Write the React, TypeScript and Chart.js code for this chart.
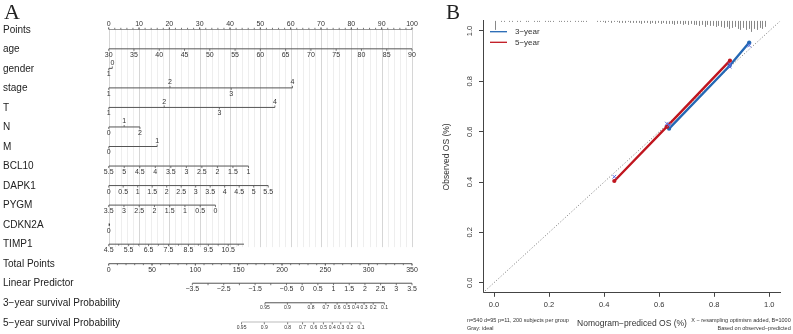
import React, { useEffect, useRef } from "react";
import { Chart, registerables } from "chart.js";
Chart.register(...registerables);

const SANS = "'Liberation Sans', Arial, sans-serif";
const SERIF = "'Liberation Serif', 'Times New Roman', serif";

// ---------------- Panel A: nomogram ----------------
const rowNames = [
  "Points", "age", "gender", "stage", "T", "N", "M", "BCL10", "DAPK1", "PYGM",
  "CDKN2A", "TIMP1", "Total Points", "Linear Predictor",
  "3\u2212year survival Probability", "5\u2212year survival Probability",
];

const pointsLabels = ["0", "10", "20", "30", "40", "50", "60", "70", "80", "90", "100"];
const pointsPos = [0, 10, 20, 30, 40, 50, 60, 70, 80, 90, 100];
const pointsMinorStep = 2;

const ageLabels = ["30", "35", "40", "45", "50", "55", "60", "65", "70", "75", "80", "85", "90"];
const agePts = [0, 8.33, 16.67, 25, 33.33, 41.67, 50, 58.33, 66.67, 75, 83.33, 91.67, 100];

const genderLabels = ["0", "1"];
const genderPts = [1.2, 0];
const genderSide = [1, -1];

const stageLabels = ["1", "2", "3", "4"];
const stagePts = [0, 20.2, 40.4, 60.6];
const stageSide = [-1, 1, -1, 1];

const tLabels = ["1", "2", "3", "4"];
const tPts = [0, 18.3, 36.5, 54.8];
const tSide = [-1, 1, -1, 1];

const nLabels = ["0", "1", "2"];
const nPts = [0, 5.1, 10.3];
const nSide = [-1, 1, -1];

const mLabels = ["0", "1"];
const mPts = [0, 16.0];
const mSide = [-1, 1];

const bcl10Labels = ["5.5", "5", "4.5", "4", "3.5", "3", "2.5", "2", "1.5", "1"];
const bcl10Pts = [0, 5.12, 10.24, 15.36, 20.48, 25.6, 30.72, 35.84, 40.96, 46.1];

const dapk1Labels = ["0", "0.5", "1", "1.5", "2", "2.5", "3", "3.5", "4", "4.5", "5", "5.5"];
const dapk1Pts = [0, 4.78, 9.56, 14.34, 19.12, 23.9, 28.68, 33.46, 38.24, 43.02, 47.8, 52.6];

const pygmLabels = ["3.5", "3", "2.5", "2", "1.5", "1", "0.5", "0"];
const pygmPts = [0, 5.03, 10.06, 15.09, 20.11, 25.14, 30.17, 35.2];

const cdkn2aLabels = ["0"];
const cdkn2aPts = [0];

const timp1Labels = ["4.5", "5.5", "6.5", "7.5", "8.5", "9.5", "10.5"];
const timp1Pts = [0, 6.57, 13.14, 19.71, 26.28, 32.85, 39.4];
const timp1MinorPts = [3.28, 9.85, 16.42, 23.0, 29.57, 36.1, 42.7];
const timp1End = 44.6;

const totalLabels = ["0", "50", "100", "150", "200", "250", "300", "350"];
const totalPos = [0, 50, 100, 150, 200, 250, 300, 350];
const totalMinorStep = 10;

const lpLabels = ["\u22123.5", "", "\u22122.5", "", "\u22121.5", "", "\u22120.5", "0", "0.5", "1", "1.5", "2", "2.5", "3", "3.5"];
const lpPos = [-3.5, -3, -2.5, -2, -1.5, -1, -0.5, 0, 0.5, 1, 1.5, 2, 2.5, 3, 3.5];
const lpAtZeroTotal = -6.165; // linear predictor value at 0 total points

const survLabels = ["0.95", "0.9", "0.8", "0.7", "0.6", "0.5", "0.4", "0.3", "0.2", "0.1"];
const surv3Total = [180.3, 206.2, 233.5, 250.6, 263.6, 274.8, 284.9, 294.7, 305.2, 318.2];
const surv5Total = [153.3, 179.6, 206.5, 223.7, 236.6, 247.8, 258.0, 267.8, 278.3, 291.2];

type Row = {
  axis: string; start: number; end: number; pos: number[]; labels: string[];
  sides?: number[]; side?: number; minor?: number[]; size?: number; dot?: boolean;
};

function stepList(a: number, b: number, s: number): number[] {
  const out: number[] = [];
  for (let v = a; v <= b + 1e-9; v += s) out.push(+v.toFixed(6));
  return out;
}

const rows: Row[] = [
  { axis: "x", start: 0, end: 100, pos: pointsPos, labels: pointsLabels, side: 1, minor: stepList(0, 100, pointsMinorStep) },
  { axis: "x", start: 0, end: 100, pos: agePts, labels: ageLabels, side: -1 },
  { axis: "x", start: 0, end: genderPts[0], pos: genderPts, labels: genderLabels, sides: genderSide },
  { axis: "x", start: 0, end: stagePts[3], pos: stagePts, labels: stageLabels, sides: stageSide },
  { axis: "x", start: 0, end: tPts[3], pos: tPts, labels: tLabels, sides: tSide },
  { axis: "x", start: 0, end: nPts[2], pos: nPts, labels: nLabels, sides: nSide },
  { axis: "x", start: 0, end: mPts[1], pos: mPts, labels: mLabels, sides: mSide },
  { axis: "x", start: 0, end: bcl10Pts[9], pos: bcl10Pts, labels: bcl10Labels, side: -1 },
  { axis: "x", start: 0, end: dapk1Pts[11], pos: dapk1Pts, labels: dapk1Labels, side: -1 },
  { axis: "x", start: 0, end: pygmPts[7], pos: pygmPts, labels: pygmLabels, side: -1 },
  { axis: "x", start: 0, end: 0, pos: cdkn2aPts, labels: cdkn2aLabels, side: -1, dot: true },
  { axis: "x", start: 0, end: timp1End, pos: timp1Pts, labels: timp1Labels, side: -1, minor: timp1MinorPts },
  { axis: "xTotal", start: 0, end: 350, pos: totalPos, labels: totalLabels, side: -1, minor: stepList(0, 350, totalMinorStep) },
  { axis: "xLP", start: -3.5, end: 3.5, pos: lpPos, labels: lpLabels, side: -1 },
  { axis: "xTotal", start: surv3Total[0], end: surv3Total[9], pos: surv3Total, labels: survLabels, side: -1, size: 5 },
  { axis: "xTotal", start: surv5Total[0], end: surv5Total[9], pos: surv5Total, labels: survLabels, side: -1, size: 5 },
];

const gridMinorStep = 2;
const gridMajorStep = 10;

const nomoPlugin = {
  id: "nomoDecor",
  beforeDatasetsDraw(chart: any) {
    const { ctx } = chart;
    const x = chart.scales.x;
    const y = chart.scales.y;
    const yTop = y.getPixelForValue(0);
    const yBot = y.getPixelForValue(11) + 3;
    ctx.save();
    ctx.lineWidth = 1;
    for (let p = 0; p <= 100 + 1e-9; p += gridMinorStep) {
      const px = Math.round(x.getPixelForValue(p)) + 0.5;
      ctx.strokeStyle = Math.abs(p % gridMajorStep) < 1e-6 ? "#d6d6d6" : "#eeeeee";
      ctx.beginPath();
      ctx.moveTo(px, yTop);
      ctx.lineTo(px, yBot);
      ctx.stroke();
    }
    ctx.restore();
  },
  afterDatasetsDraw(chart: any) {
    const { ctx } = chart;
    const y = chart.scales.y;
    ctx.save();
    ctx.strokeStyle = "#555";
    ctx.fillStyle = "#333";
    ctx.lineWidth = 0.8;
    rows.forEach((r, i) => {
      const sc = chart.scales[r.axis];
      const py = y.getPixelForValue(i);
      if (r.minor) {
        r.minor.forEach((v) => {
          const px = sc.getPixelForValue(v);
          const s = r.side ?? -1;
          ctx.beginPath();
          ctx.moveTo(px, py);
          ctx.lineTo(px, py - s * 1.5);
          ctx.stroke();
        });
      }
      ctx.font = `${r.size ?? 7}px ${SANS}`;
      ctx.textAlign = "center";
      r.pos.forEach((v, j) => {
        const px = sc.getPixelForValue(v);
        const s = r.sides ? r.sides[j] : r.side ?? -1;
        if (!r.dot) {
          ctx.beginPath();
          ctx.moveTo(px, py);
          ctx.lineTo(px, py - s * 2);
          ctx.stroke();
        }
        const lab = r.labels[j];
        if (!lab) return;
        if (s > 0) {
          ctx.textBaseline = "bottom";
          ctx.fillText(lab, px, py - 2);
        } else {
          ctx.textBaseline = "top";
          ctx.fillText(lab, px, py + 2.5);
        }
      });
    });
    // row names
    ctx.fillStyle = "#222";
    ctx.font = `10px ${SANS}`;
    ctx.textAlign = "left";
    ctx.textBaseline = "middle";
    rowNames.forEach((n, i) => {
      ctx.fillText(n, 3, y.getPixelForValue(i) + 0.5);
    });
    // panel letter
    ctx.font = `22px ${SERIF}`;
    ctx.textBaseline = "alphabetic";
    ctx.fillText("A", 4, 19);
    ctx.restore();
  },
};

// ---------------- Panel B: calibration ----------------
const axisTicks = [0, 0.2, 0.4, 0.6, 0.8, 1.0];
const axisMin = -0.04;
const axisMax = 1.04;

const cal3Pred = [0.636, 0.856, 0.927];
const cal3Obs = [0.612, 0.862, 0.954];
const cal5Pred = [0.437, 0.628, 0.857];
const cal5Obs = [0.404, 0.62, 0.882];
const corr3Obs = [0.627, 0.858, 0.942];
const corr5Obs = [0.421, 0.632, 0.868];

// rug (histogram of predicted values) at top, bins of 0.01 from 0.00 to 0.99
const rugCounts = [
  9, 0, 1, 1, 0, 1, 1, 0, 1, 1,
  0, 1, 1, 0, 1, 1, 1, 0, 1, 1,
  1, 1, 0, 1, 1, 1, 1, 1, 0, 1,
  1, 1, 1, 1, 0, 0, 0, 1, 1, 1,
  2, 1, 2, 1, 1, 2, 2, 2, 1, 2,
  2, 2, 2, 3, 2, 2, 3, 2, 3, 2,
  3, 2, 3, 3, 3, 4, 3, 3, 4, 3,
  4, 3, 4, 4, 5, 4, 6, 4, 5, 5,
  6, 5, 6, 7, 6, 8, 7, 6, 8, 9,
  7, 9, 8, 11, 8, 9, 7, 8, 6, 0,
];
const rugBinWidth = 0.01;

const BLUE = "#2468b4";
const RED = "#c0161f";
const XCOL = "#5b6ee0";

const calPlugin = {
  id: "calDecor",
  beforeDatasetsDraw(chart: any) {
    const { ctx } = chart;
    const x = chart.scales.x;
    const y = chart.scales.y;
    const top = y.getPixelForValue(axisMax);
    const pxPerUnit = y.getPixelForValue(0) - y.getPixelForValue(1);
    ctx.save();
    ctx.strokeStyle = "#6a6a6a";
    ctx.lineWidth = 0.8;
    rugCounts.forEach((c, i) => {
      if (!c) return;
      const px = Math.round(x.getPixelForValue(i * rugBinWidth + rugBinWidth / 2)) + 0.5;
      const len = y.getPixelForValue(axisMax - c / pxPerUnit) - top;
      ctx.beginPath();
      ctx.moveTo(px, top);
      ctx.lineTo(px, top + len);
      ctx.stroke();
    });
    ctx.restore();
  },
  afterDraw(chart: any) {
    const { ctx, chartArea } = chart;
    const y = chart.scales.y;
    ctx.save();
    ctx.fillStyle = "#333";
    // rotated y tick labels
    ctx.font = `7.5px ${SANS}`;
    ctx.textAlign = "center";
    ctx.textBaseline = "middle";
    axisTicks.forEach((v) => {
      const py = y.getPixelForValue(v);
      ctx.save();
      ctx.translate(40, py);
      ctx.rotate(-Math.PI / 2);
      ctx.fillText(v.toFixed(1), 0, 0);
      ctx.restore();
    });
    // y title
    ctx.font = `8.5px ${SANS}`;
    ctx.save();
    ctx.translate(17, (chartArea.top + chartArea.bottom) / 2);
    ctx.rotate(-Math.PI / 2);
    ctx.fillText("Observed OS (%)", 0, 0);
    ctx.restore();
    // x title
    ctx.font = `8.5px ${SANS}`;
    ctx.fillText("Nomogram\u2212prediced OS (%)", 202, 323.5);
    // footnotes
    ctx.font = `5.5px ${SANS}`;
    ctx.textAlign = "left";
    ctx.fillText("n=540 d=95 p=11, 200 subjects per group", 37, 320.7);
    ctx.fillText("Gray: ideal", 37, 328);
    ctx.textAlign = "right";
    ctx.fillText("X \u2212 resampling optimism added, B=1000", 360.7, 320.3);
    ctx.fillText("Based on observed\u2212predicted", 360.7, 328);
    // legend
    const leg = [["3\u2212year", BLUE, 31.7], ["5\u2212year", RED, 42.3]] as [string, string, number][];
    ctx.font = `8px ${SANS}`;
    ctx.textAlign = "left";
    leg.forEach(([t, c, ly]) => {
      ctx.strokeStyle = c;
      ctx.lineWidth = 1.3;
      ctx.beginPath();
      ctx.moveTo(60, ly);
      ctx.lineTo(77, ly);
      ctx.stroke();
      ctx.fillStyle = "#333";
      ctx.fillText(t, 85, ly + 0.5);
    });
    // panel letter
    ctx.fillStyle = "#222";
    ctx.font = `21px ${SERIF}`;
    ctx.textBaseline = "alphabetic";
    ctx.textAlign = "left";
    ctx.fillText("B", 16, 18.5);
    ctx.restore();
  },
};

function toPts(xs: number[], ys: number[]) {
  return xs.map((v, i) => ({ x: v, y: ys[i] }));
}

export default function App() {
  const leftRef = useRef<HTMLCanvasElement>(null);
  const rightRef = useRef<HTMLCanvasElement>(null);

  useEffect(() => {
    document.body.style.margin = "0";
    const lineDs = rows.map((r, i) => ({
      data: r.dot ? [{ x: r.start, y: i }] : [{ x: r.start, y: i }, { x: r.end, y: i }],
      xAxisID: r.axis,
      yAxisID: "y",
      showLine: !r.dot,
      borderColor: "#555",
      borderWidth: 1,
      pointRadius: r.dot ? 1.3 : 0,
      pointBackgroundColor: "#333",
      pointBorderWidth: 0,
    }));
    const left = new Chart(leftRef.current!, {
      type: "scatter",
      data: { datasets: lineDs as any },
      options: {
        animation: false,
        responsive: false,
        events: [],
        layout: { padding: { left: 108.7, right: 18, top: 29.3, bottom: 334 - 322.3 } },
        plugins: { legend: { display: false }, tooltip: { enabled: false } },
        scales: {
          x: { type: "linear", min: 0, max: 100, display: false },
          xTotal: { type: "linear", axis: "x", min: 0, max: 350, display: false },
          xLP: { type: "linear", axis: "x", min: lpAtZeroTotal, max: 3.5, display: false },
          y: { type: "linear", min: 0, max: 15, reverse: true, display: false },
        },
      } as any,
      plugins: [nomoPlugin],
    });

    const right = new Chart(rightRef.current!, {
      type: "scatter",
      data: {
        datasets: [
          {
            data: [...toPts(cal3Pred, corr3Obs), ...toPts(cal5Pred, corr5Obs)],
            showLine: false,
            pointStyle: "crossRot",
            pointRadius: 2.6,
            borderColor: XCOL,
            borderWidth: 1,
          },
          {
            data: toPts(cal5Pred, cal5Obs),
            showLine: true,
            borderColor: RED,
            borderWidth: 2.4,
            pointRadius: 2.1,
            pointBackgroundColor: RED,
            pointBorderWidth: 0,
          },
          {
            data: toPts(cal3Pred, cal3Obs),
            showLine: true,
            borderColor: BLUE,
            borderWidth: 2.4,
            pointRadius: 2.1,
            pointBackgroundColor: BLUE,
            pointBorderWidth: 0,
          },
          {
            data: [{ x: axisMin, y: axisMin }, { x: axisMax, y: axisMax }],
            showLine: true,
            borderColor: "#777",
            borderWidth: 1,
            borderDash: [1, 2],
            pointRadius: 0,
          },
        ],
      } as any,
      options: {
        animation: false,
        responsive: false,
        events: [],
        layout: { padding: { left: 0, right: 12.7, top: 20.9, bottom: 0 } },
        plugins: { legend: { display: false }, tooltip: { enabled: false } },
        scales: {
          x: {
            type: "linear",
            min: axisMin,
            max: axisMax,
            afterBuildTicks: (s: any) => { s.ticks = axisTicks.map((v) => ({ value: v })); },
            afterFit: (s: any) => { s.height = 41.2; },
            grid: { drawOnChartArea: false, drawTicks: true, tickLength: 4, color: "#444", lineWidth: 1 },
            border: { display: true, color: "#444", width: 1 },
            ticks: {
              autoSkip: false, maxRotation: 0, padding: 4, color: "#333",
              font: { family: SANS, size: 7.5 },
              callback: (v: any) => Number(v).toFixed(1),
            },
          },
          y: {
            type: "linear",
            min: axisMin,
            max: axisMax,
            afterBuildTicks: (s: any) => { s.ticks = axisTicks.map((v) => ({ value: v })); },
            afterFit: (s: any) => { s.width = 53; },
            grid: { drawOnChartArea: false, drawTicks: true, tickLength: 4, color: "#444", lineWidth: 1 },
            border: { display: true, color: "#444", width: 1 },
            ticks: { display: false },
          },
        },
      } as any,
      plugins: [calPlugin],
    });
    return () => {
      left.destroy();
      right.destroy();
    };
  }, []);

  return (
    <div style={{ position: "fixed", left: 0, top: 0, width: 793, height: 334, background: "#fff" }}>
      <canvas ref={leftRef} width={430} height={334} style={{ position: "absolute", left: 0, top: 0, width: 430, height: 334 }} />
      <canvas ref={rightRef} width={363} height={334} style={{ position: "absolute", left: 430, top: 0, width: 363, height: 334 }} />
    </div>
  );
}
